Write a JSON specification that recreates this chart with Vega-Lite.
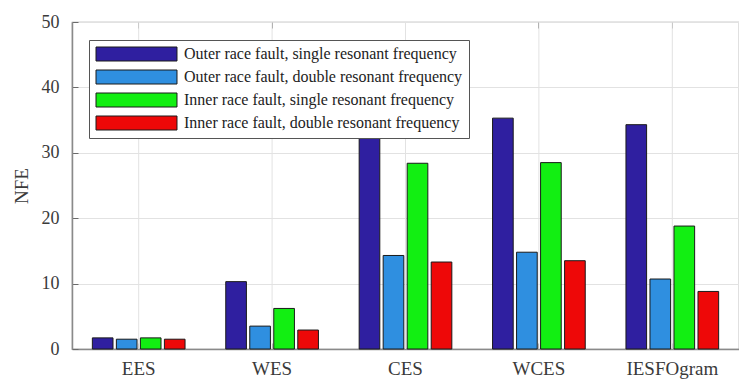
{
  "$schema": "https://vega.github.io/schema/vega-lite/v6.json",
  "width": 667,
  "height": 327,
  "autosize": {"type": "none"},
  "padding": {"left": 72, "top": 22, "right": 0, "bottom": 30},
  "background": "white",
  "config": {
    "font": "Liberation Serif, Times New Roman, serif",
    "view": {"stroke": "#9a9a9a", "strokeWidth": 1.2},
    "axis": {
      "labelFont": "Liberation Serif, Times New Roman, serif",
      "titleFont": "Liberation Serif, Times New Roman, serif",
      "labelFontSize": 18,
      "titleFontSize": 19,
      "labelColor": "#3a3a3a",
      "titleColor": "#3a3a3a",
      "titleFontWeight": "normal",
      "domainColor": "#8a8a8a",
      "domainWidth": 1.5,
      "tickColor": "#6a6a6a",
      "gridColor": "#e2e2e2",
      "gridWidth": 1
    },
    "legend": {"labelFont": "Liberation Serif, Times New Roman, serif"}
  },
  "data": {
    "values": [
      {"method": "EES", "series": "Outer race fault, single resonant frequency", "nfe": 1.7},
      {"method": "EES", "series": "Outer race fault, double resonant frequency", "nfe": 1.5},
      {"method": "EES", "series": "Inner race fault, single resonant frequency", "nfe": 1.7},
      {"method": "EES", "series": "Inner race fault, double resonant frequency", "nfe": 1.5},
      {"method": "WES", "series": "Outer race fault, single resonant frequency", "nfe": 10.3},
      {"method": "WES", "series": "Outer race fault, double resonant frequency", "nfe": 3.5},
      {"method": "WES", "series": "Inner race fault, single resonant frequency", "nfe": 6.2},
      {"method": "WES", "series": "Inner race fault, double resonant frequency", "nfe": 2.9},
      {"method": "CES", "series": "Outer race fault, single resonant frequency", "nfe": 32.4},
      {"method": "CES", "series": "Outer race fault, double resonant frequency", "nfe": 14.3},
      {"method": "CES", "series": "Inner race fault, single resonant frequency", "nfe": 28.4},
      {"method": "CES", "series": "Inner race fault, double resonant frequency", "nfe": 13.3},
      {"method": "WCES", "series": "Outer race fault, single resonant frequency", "nfe": 35.3},
      {"method": "WCES", "series": "Outer race fault, double resonant frequency", "nfe": 14.8},
      {"method": "WCES", "series": "Inner race fault, single resonant frequency", "nfe": 28.5},
      {"method": "WCES", "series": "Inner race fault, double resonant frequency", "nfe": 13.5},
      {"method": "IESFOgram", "series": "Outer race fault, single resonant frequency", "nfe": 34.3},
      {"method": "IESFOgram", "series": "Outer race fault, double resonant frequency", "nfe": 10.7},
      {"method": "IESFOgram", "series": "Inner race fault, single resonant frequency", "nfe": 18.8},
      {"method": "IESFOgram", "series": "Inner race fault, double resonant frequency", "nfe": 8.8}
    ]
  },
  "resolve": {"axis": {"x": "independent"}},
  "layer": [
    {
      "transform": [{"filter": "datum.series === 'Outer race fault, single resonant frequency'"}],
      "mark": {"type": "rule", "color": "#e2e2e2", "strokeWidth": 1},
      "encoding": {
        "x": {
          "field": "method",
          "type": "nominal",
          "sort": ["EES", "WES", "CES", "WCES", "IESFOgram"],
          "scale": {"paddingInner": 0.28, "paddingOuter": 0.14},
          "axis": {
            "orient": "top",
            "title": null,
            "labels": false,
            "domain": false,
            "grid": false,
            "bandPosition": 0.5,
            "tickBand": "center",
            "tickSize": -6
          }
        }
      }
    },
    {
      "mark": {"type": "bar", "stroke": "#1a1a1a", "strokeWidth": 1},
      "encoding": {
        "x": {
          "field": "method",
          "type": "nominal",
          "sort": ["EES", "WES", "CES", "WCES", "IESFOgram"],
          "axis": {
            "title": null,
            "labelAngle": 0,
            "labelFontSize": 19,
            "bandPosition": 0.5,
            "tickBand": "center",
            "grid": false,
            "tickSize": -6,
            "labelPadding": 16,
            "domain": true
          }
        },
        "xOffset": {
          "field": "series",
          "type": "nominal",
          "sort": [
            "Outer race fault, single resonant frequency",
            "Outer race fault, double resonant frequency",
            "Inner race fault, single resonant frequency",
            "Inner race fault, double resonant frequency"
          ],
          "scale": {"paddingInner": 0.14, "paddingOuter": 0.07}
        },
        "y": {
          "field": "nfe",
          "type": "quantitative",
          "scale": {"domain": [0, 50], "nice": false},
          "axis": {
            "title": "NFE",
            "values": [0, 10, 20, 30, 40, 50],
            "grid": true,
            "tickSize": -6,
            "labelPadding": 19,
            "titlePadding": 10
          }
        },
        "color": {
          "field": "series",
          "type": "nominal",
          "sort": [
            "Outer race fault, single resonant frequency",
            "Outer race fault, double resonant frequency",
            "Inner race fault, single resonant frequency",
            "Inner race fault, double resonant frequency"
          ],
          "scale": {"range": ["#2f1fa0", "#2f8fe0", "#12ef12", "#ee0808"]},
          "legend": {
            "title": null,
            "orient": "none",
            "legendX": 17,
            "legendY": 18,
            "symbolType": "M-1,-1L10.57,-1L10.57,1L-1,1Z",
            "symbolSize": 196,
            "symbolStrokeColor": "#1a1a1a",
            "symbolStrokeWidth": 1,
            "symbolOpacity": 1,
            "labelFont": "Liberation Serif, Times New Roman, serif",
            "labelFontSize": 16,
            "labelColor": "#222222",
            "labelOffset": 73,
            "labelLimit": 500,
            "rowPadding": 5,
            "padding": 6,
            "strokeColor": "#555555",
            "fillColor": "white"
          }
        }
      }
    }
  ]
}
